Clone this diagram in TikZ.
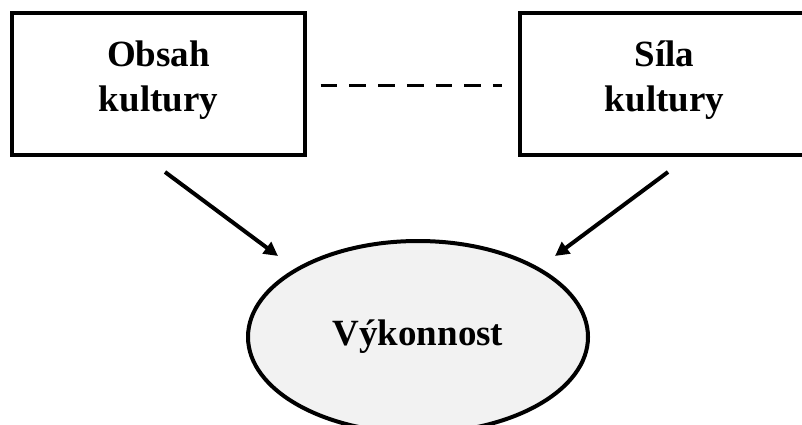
\documentclass[tikz,border=0pt]{standalone}
\usepackage{fontspec}
\setmainfont{Liberation Serif}
\usetikzlibrary{shapes.geometric,arrows.meta}
\definecolor{ovalfill}{RGB}{242,242,242}
\tikzset{
  x=1pt, y=-1pt,
  boxlabel/.style={font=\fontsize{37}{45}\selectfont\bfseries, align=center, inner sep=0pt},
  culturebox/.style={draw, line width=4pt, rectangle, minimum height=142pt, inner sep=0pt},
  outcome/.style={font=\fontsize{37}{45}\selectfont\bfseries, draw, line width=4pt, ellipse, fill=ovalfill, minimum width=340pt, minimum height=192pt, inner sep=0pt},
  link/.style={line width=4pt, -{Triangle[length=14pt,width=14pt]}},
  dashlink/.style={line width=3.6pt, dash pattern=on 16.7pt off 12pt}
}
\begin{document}
\begin{tikzpicture}
  \useasboundingbox (0,0) rectangle (802,425);
  \begin{scope}
    \clip (0,0) rectangle (802,425);
    % the two culture boxes
    \node[culturebox, minimum width=293pt,
          label={[boxlabel, yshift=3.5pt]center:Obsah\\kultury}] (obsah) at (158.5,84) {};
    \node[culturebox, minimum width=289pt,
          label={[boxlabel, yshift=3.5pt]center:Síla\\kultury}] (sila) at (664.5,84) {};
    % performance oval
    \node[outcome] (vykon) at (418,337) {Výkonnost};
    % dashed relation between the boxes
    \draw[dashlink, shorten <=13.7pt, shorten >=16.3pt] ([yshift=-1.7pt]obsah.east) -- ([yshift=-1.7pt]sila.west);
    % arrows towards the oval
    \coordinate (s1) at (165,172);
    \coordinate (e1) at (278,256);
    \coordinate (s2) at (668,172);
    \coordinate (e2) at (555,256);
    \draw[link] (s1) -- (e1);
    \draw[link] (s2) -- (e2);
  \end{scope}
\end{tikzpicture}
\end{document}
